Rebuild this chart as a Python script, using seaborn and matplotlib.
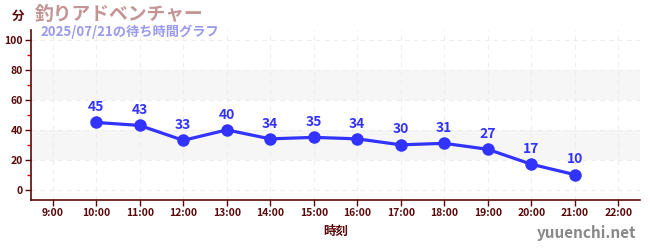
import matplotlib
matplotlib.use("Agg")
import matplotlib.pyplot as plt
import seaborn as sns
import pandas as pd
from matplotlib.ticker import MultipleLocator

hours = [10, 11, 12, 13, 14, 15, 16, 17, 18, 19, 20, 21]
waits = [45, 43, 33, 40, 34, 35, 34, 30, 31, 27, 17, 10]
tick_hours = list(range(9, 23))
tick_labels = [f"{h}:00" for h in tick_hours]
title = "釣りアドベンチャー"
subtitle = "2025/07/21の待ち時間グラフ"

sns.set_theme(style="white")
plt.rcParams['font.family'] = ['Noto Sans CJK JP', 'DejaVu Sans']

df = pd.DataFrame({"hour": hours, "wait": waits})

fig = plt.figure(figsize=(6.5, 2.5), dpi=100)
ax = fig.add_axes([31/650, 1-200/250, (640-31)/650, 170/250])

dark = "#5a0a0a"
blue = "#3333ff"

ax.set_xlim(8.5, 22.5)
ax.set_ylim(-7, 107)

for lo, hi in [(20, 40), (60, 80)]:
    ax.axhspan(lo, hi, color="#f6f6f6", zorder=0, lw=0)

sns.lineplot(data=df, x="hour", y="wait", ax=ax, color=blue, lw=2.3,
             marker="o", markersize=9, markeredgewidth=0, zorder=3)
for h, w in zip(hours, waits):
    ax.annotate(str(w), (h, w), xytext=(0, 6), textcoords="offset points",
                ha="center", va="bottom", color=blue, fontsize=10,
                fontweight="bold", zorder=4)

ax.set_xticks(tick_hours)
ax.set_xticklabels(tick_labels)
ax.set_yticks([0, 20, 40, 60, 80, 100])
ax.yaxis.set_minor_locator(MultipleLocator(10))
ax.grid(True, which="major", color="#ededed", ls=(0, (4, 4)), lw=0.8)
ax.set_axisbelow(True)

for s in ["top", "right"]:
    ax.spines[s].set_visible(False)
for s in ["left", "bottom"]:
    ax.spines[s].set_color(dark)
    ax.spines[s].set_linewidth(1.2)

ax.tick_params(axis="both", which="major", colors=dark, labelsize=7.5,
               length=4, width=1, direction="out", left=True, bottom=True, pad=2)
ax.tick_params(axis="y", which="minor", colors="#dd0000", length=3, width=1,
               left=True)
for lbl in ax.get_xticklabels() + ax.get_yticklabels():
    lbl.set_fontweight("bold")
    lbl.set_color(dark)

ax.set_xlabel("時刻", color=dark, fontsize=9, fontweight="bold", labelpad=5)
ax.set_ylabel("")

fig.text(12/650, 1-16/250, "分", color=dark, fontsize=9, fontweight="bold",
         ha="left", va="center")
fig.text(35/650, 1-14/250, title, color="#c49494", fontsize=13.5,
         fontweight="bold", ha="left", va="center")
fig.text(40/650, 1-32/250, subtitle, color="#9999ee", fontsize=9.5,
         fontweight="bold", ha="left", va="center")
fig.text(636/650, 1-233/250, "yuuenchi.net", color="#888888", fontsize=11,
         fontweight="bold", ha="right", va="center")

fig.savefig("out.png", dpi=100)
